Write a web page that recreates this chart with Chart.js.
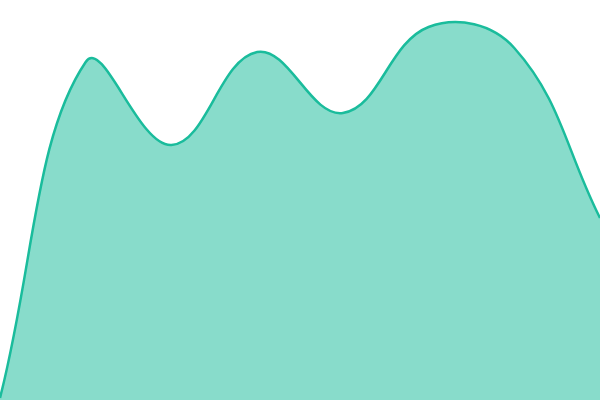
<!DOCTYPE html>
<html>
<head>
<meta charset="utf-8">
<script src="https://cdn.jsdelivr.net/npm/chart.js@4"></script>
<style>
  html, body { margin: 0; padding: 0; background: #fff; }
  #wrap { width: 600px; height: 400px; }
</style>
</head>
<body>
<div id="wrap"><canvas id="chart"></canvas></div>
<script>
const labels = ['1', '2', '3', '4', '5', '6', '7', '8'];
const values = [2, 338, 255, 348, 287, 373, 352, 182];

new Chart(document.getElementById('chart').getContext('2d'), {
  type: 'line',
  data: {
    labels: labels,
    datasets: [
      {
        data: values,
        fill: true,
        tension: 0.4,
        borderColor: '#1abc9c',
        backgroundColor: 'rgba(26, 188, 156, 0.52)',
        borderWidth: 2.5,
        pointRadius: 0,
      },
    ],
  },
  options: {
    responsive: true,
    maintainAspectRatio: false,
    animation: false,
    layout: { padding: 0 },
    scales: {
      x: { display: false },
      y: { display: false, min: 0, max: 400 },
    },
    plugins: {
      legend: { display: false },
      tooltip: { enabled: false },
    },
  },
});
</script>
</body>
</html>
